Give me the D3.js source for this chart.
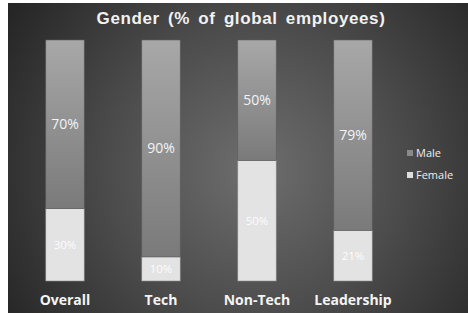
<!DOCTYPE html>
<html><head><meta charset="utf-8">
<script src="https://cdn.jsdelivr.net/npm/d3@7"></script>
<style>html,body{margin:0;padding:0;background:#fff;}svg{display:block;}</style>
</head><body>
<script>
const categories = ["Overall", "Tech", "Non-Tech", "Leadership"];
const female = [30, 10, 50, 21];
const male = [70, 90, 50, 79];
const seriesNames = ["Male", "Female"];

const W = 468, H = 313;
const svg = d3.select("body").append("svg").attr("width", W).attr("height", H);
const defs = svg.append("defs");
const rg = defs.append("radialGradient").attr("id","bg").attr("gradientUnits","userSpaceOnUse")
  .attr("cx",255).attr("cy",170).attr("r",290);
rg.append("stop").attr("offset","0%").attr("stop-color","#6e6e6e");
rg.append("stop").attr("offset","50%").attr("stop-color","#4c4c4c");
rg.append("stop").attr("offset","100%").attr("stop-color","#262626");
const mg = defs.append("linearGradient").attr("id","mg").attr("x1",0).attr("x2",0).attr("y1",0).attr("y2",1);
mg.append("stop").attr("offset","0%").attr("stop-color","#a8a8a8");
mg.append("stop").attr("offset","100%").attr("stop-color","#7a7a7a");

svg.append("rect").attr("x",8).attr("y",3).attr("width",W-8).attr("height",H-3).attr("fill","url(#bg)");

const x = d3.scaleBand().domain(categories).range([17, 401]).paddingInner(0.6).paddingOuter(0.3);
const y = d3.scaleLinear().domain([0,100]).range([281, 40]);

const data = categories.map((c,i)=>({c, f:female[i], m:male[i]}));
const g = svg.append("g");
// female
g.selectAll(".f").data(data).join("rect")
  .attr("x", d=>x(d.c)).attr("width", x.bandwidth())
  .attr("y", d=>y(d.f)).attr("height", d=>y(0)-y(d.f))
  .attr("fill","#e3e3e3").attr("stroke","#8a8a8a").attr("stroke-width",0.6);
// male
g.selectAll(".m").data(data).join("rect")
  .attr("x", d=>x(d.c)).attr("width", x.bandwidth())
  .attr("y", d=>y(d.f+d.m)).attr("height", d=>y(d.f)-y(d.f+d.m))
  .attr("fill","url(#mg)").attr("stroke","#5e5e5e").attr("stroke-width",0.6);

const font = "'Open Sans', sans-serif";
g.selectAll(".ml").data(data).join("text")
  .attr("x", d=>x(d.c)+x.bandwidth()/2).attr("y", d=>(y(d.f)+y(d.f+d.m))/2)
  .attr("dy","0.36em").attr("text-anchor","middle")
  .attr("font-family",font).attr("font-size",14).attr("fill","#f4f4f4")
  .text(d=>d.m+"%");
g.selectAll(".fl").data(data).join("text")
  .attr("x", d=>x(d.c)+x.bandwidth()/2).attr("y", d=>(y(0)+y(d.f))/2)
  .attr("dy","0.36em").attr("text-anchor","middle")
  .attr("font-family",font).attr("font-size",11.5).attr("fill","#fcfcfc")
  .text(d=>d.f+"%");

// x axis labels
const xAxis = d3.axisBottom(x).tickSize(0).tickPadding(0);
const ax = svg.append("g").attr("transform","translate(0,295)").call(xAxis);
ax.select(".domain").remove();
ax.selectAll("text").attr("font-family",font).attr("font-weight","bold")
  .attr("font-size",14).attr("fill","#f4f4f4").attr("dy","0.71em");

// title
svg.append("text").attr("x",241).attr("y",24).attr("text-anchor","middle")
  .attr("font-family","'Liberation Sans', Arial, sans-serif").attr("font-weight","bold")
  .attr("font-size",17).attr("fill","#f2f2f2").attr("letter-spacing","0.6")
  .attr("word-spacing","3")
  .text("Gender (% of global employees)");

// legend
const lg = svg.append("g").attr("transform","translate(407,150)");
const lcol = ["#8a8a8a","#dedede"];
seriesNames.forEach((s,i)=>{
  const r = lg.append("g").attr("transform",`translate(0,${i*22})`);
  r.append("rect").attr("width",6).attr("height",6).attr("y",0).attr("fill",lcol[i]);
  r.append("text").attr("x",9).attr("y",3).attr("dy","0.36em")
    .attr("font-family",font).attr("font-size",11).attr("fill","#eeeeee").text(s);
});
</script>
</body></html>
